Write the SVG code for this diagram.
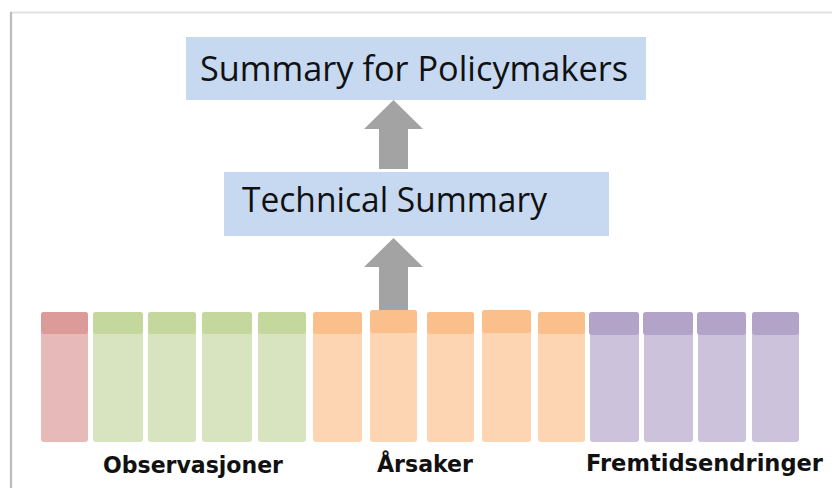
<svg xmlns="http://www.w3.org/2000/svg" width="832" height="488" viewBox="0 0 832 488">
  <style>
    .box { fill: #c6d9f1; }
    .title { font-family: "Open Sans", "Liberation Sans", sans-serif; font-size: 35px; fill: #111; }
    .label { font-family: "DejaVu Sans", "Liberation Sans", sans-serif; font-weight: bold; font-size: 23px; fill: #111; }
    .arrow { fill: #a3a3a3; }
    .red .hd { fill: #dc9a99; } .red .bd { fill: #e8b9b9; }
    .green .hd { fill: #c4d89d; } .green .bd { fill: #d8e4bf; }
    .orange .hd { fill: #fbbf8c; } .orange .bd { fill: #fdd5b3; }
    .purple .hd { fill: #b4a3c8; } .purple .bd { fill: #cdc2dc; }
  </style>
  <defs>
    <filter id="soft" x="-5%" y="-5%" width="110%" height="110%">
      <feGaussianBlur stdDeviation="0.6"/>
    </filter>
  </defs>
  <rect width="832" height="488" fill="#ffffff"/>
  <g id="frame" filter="url(#soft)">
    <line x1="10" y1="12.5" x2="832" y2="12.5" stroke="#e2e2e2" stroke-width="2"/>
    <line x1="11" y1="12" x2="11" y2="488" stroke="#bcbcbc" stroke-width="2.2"/>
  </g>

  <g id="connectors">
    <polygon class="arrow" points="379,169 408,169 408,129 423,129 393.5,100 364,129 379,129"/>
    <polygon class="arrow" points="379,312 408,312 408,267 423,267 393.5,238 364,267 379,267"/>
  </g>

  <g id="spm">
    <rect class="box" x="186" y="37" width="460" height="63"/>
    <text class="title" x="200" y="81" textLength="428" lengthAdjust="spacingAndGlyphs">Summary for Policymakers</text>
  </g>

  <g id="ts">
    <rect class="box" x="224" y="172" width="385" height="64"/>
    <text class="title" x="242" y="212" textLength="305" lengthAdjust="spacingAndGlyphs">Technical Summary</text>
  </g>

  <g id="chapters">
    <g id="ch1" class="red"><rect class="bd" x="41" y="312" width="47" height="130" rx="3"/><rect class="hd" x="41" y="312" width="47" height="22" rx="3"/></g>
    <g id="ch2" class="green"><rect class="bd" x="93" y="312" width="50" height="130" rx="3"/><rect class="hd" x="93" y="312" width="50" height="22" rx="3"/></g>
    <g id="ch3" class="green"><rect class="bd" x="148" y="312" width="48" height="130" rx="3"/><rect class="hd" x="148" y="312" width="48" height="22" rx="3"/></g>
    <g id="ch4" class="green"><rect class="bd" x="202" y="312" width="50" height="130" rx="3"/><rect class="hd" x="202" y="312" width="50" height="22" rx="3"/></g>
    <g id="ch5" class="green"><rect class="bd" x="258" y="312" width="48" height="130" rx="3"/><rect class="hd" x="258" y="312" width="48" height="22" rx="3"/></g>
    <g id="ch6" class="orange"><rect class="bd" x="313" y="312" width="49" height="130" rx="3"/><rect class="hd" x="313" y="312" width="49" height="22" rx="3"/></g>
    <g id="ch7" class="orange"><rect class="bd" x="370" y="310" width="47" height="132" rx="3"/><rect class="hd" x="370" y="310" width="47" height="23" rx="3"/></g>
    <g id="ch8" class="orange"><rect class="bd" x="427" y="312" width="47" height="130" rx="3"/><rect class="hd" x="427" y="312" width="47" height="22" rx="3"/></g>
    <g id="ch9" class="orange"><rect class="bd" x="482" y="310" width="49" height="132" rx="3"/><rect class="hd" x="482" y="310" width="49" height="23" rx="3"/></g>
    <g id="ch10" class="orange"><rect class="bd" x="538" y="312" width="47" height="130" rx="3"/><rect class="hd" x="538" y="312" width="47" height="22" rx="3"/></g>
    <g id="ch11" class="purple"><rect class="bd" x="590" y="312" width="49" height="130" rx="3"/><rect class="hd" x="589" y="312" width="50" height="23" rx="3"/></g>
    <g id="ch12" class="purple"><rect class="bd" x="644" y="312" width="49" height="130" rx="3"/><rect class="hd" x="643" y="312" width="50" height="23" rx="3"/></g>
    <g id="ch13" class="purple"><rect class="bd" x="698" y="312" width="48" height="130" rx="3"/><rect class="hd" x="697" y="312" width="49" height="23" rx="3"/></g>
    <g id="ch14" class="purple"><rect class="bd" x="752" y="312" width="47" height="130" rx="3"/><rect class="hd" x="752" y="312" width="47" height="23" rx="3"/></g>
  </g>

  <g id="labels">
    <text class="label" x="103" y="473" textLength="180" lengthAdjust="spacingAndGlyphs">Observasjoner</text>
    <text class="label" x="377" y="472" textLength="96" lengthAdjust="spacingAndGlyphs">Årsaker</text>
    <text class="label" x="586" y="471" textLength="237" lengthAdjust="spacingAndGlyphs">Fremtidsendringer</text>
  </g>
</svg>
